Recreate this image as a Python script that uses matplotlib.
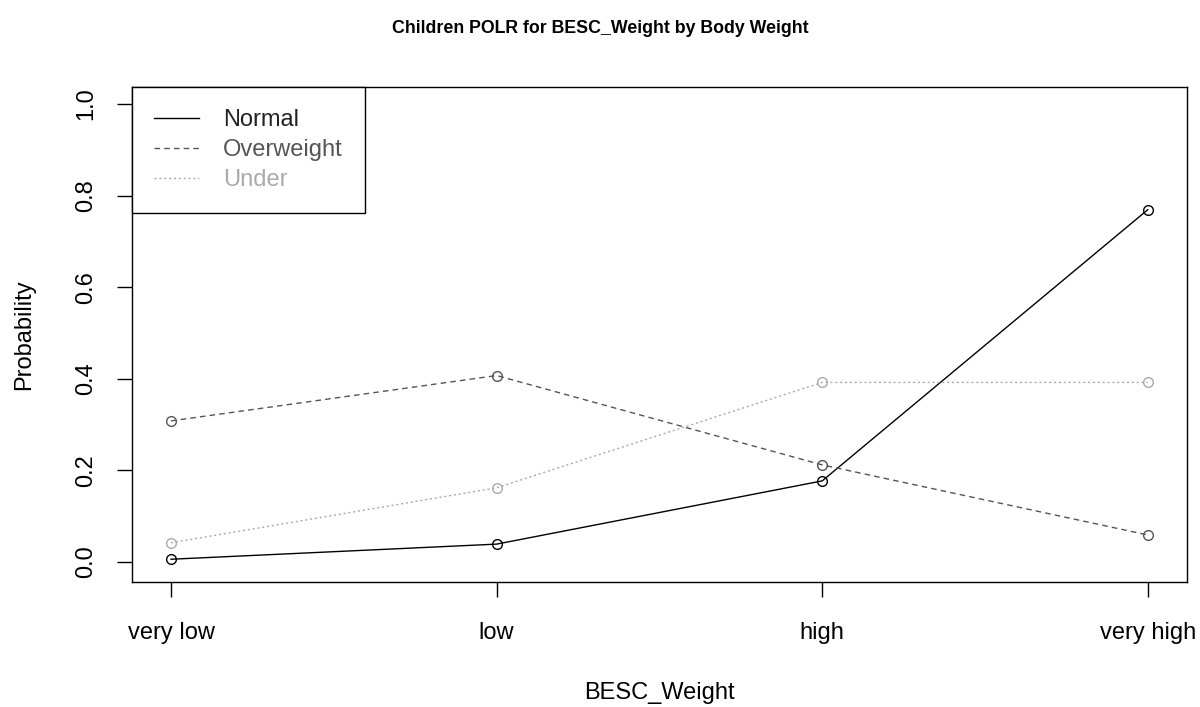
import numpy as np
import matplotlib
matplotlib.use("Agg")
import matplotlib.pyplot as plt

plt.rcParams['font.family'] = ['Liberation Sans', 'DejaVu Sans']

# categorias del eje x
niveles = ['very low', 'low', 'high', 'very high']
# probabilidades estimadas por grupo de peso corporal
normal = [0.006, 0.039, 0.177, 0.769]
overweight = [0.308, 0.407, 0.212, 0.059]
under = [0.042, 0.162, 0.392, 0.392]

grupos = ['Normal', 'Overweight', 'Under']
colores = ['black', '#555555', '#aaaaaa']
estilos = ['-', (0, (4, 3)), (0, (1.5, 2))]

fig = plt.figure(figsize=(12, 7.07), dpi=100)
ax = fig.add_axes([0.11, 0.1768, 0.879, 0.7002])

x = np.arange(1, len(niveles) + 1)
for serie, nombre, c, ls in zip([normal, overweight, under], grupos, colores, estilos):
    ax.plot(x, serie, color=c, linestyle=ls, linewidth=1.0, marker='o',
            markersize=7, markerfacecolor='none', markeredgecolor=c,
            markeredgewidth=1.0, label=nombre)

ax.set_xlim(0.88, 4.12)
ax.set_ylim(-0.0437, 1.037)
ax.set_xticks(x)
ax.set_xticklabels(niveles)
ax.set_yticks([0.0, 0.2, 0.4, 0.6, 0.8, 1.0])
ax.set_yticklabels(['0.0', '0.2', '0.4', '0.6', '0.8', '1.0'], rotation=90, va='center')
ax.tick_params(axis='both', length=11, width=1.0, labelsize=17, colors='black')
ax.tick_params(axis='x', pad=18)
ax.tick_params(axis='y', pad=14)
for s in ax.spines.values():
    s.set_linewidth(1.0)

ax.set_xlabel('BESC_Weight', fontsize=17, labelpad=27)
ax.set_ylabel('Probability', fontsize=17, labelpad=29)
fig.suptitle('Children POLR for BESC_Weight by Body Weight', fontsize=12.8,
             fontweight='bold', y=0.972)

# leyenda sin marcadores
handles = [plt.Line2D([], [], color=c, linestyle=ls, linewidth=1.0)
           for c, ls in zip(colores, estilos)]
leg = ax.legend(handles, grupos, loc='upper left', bbox_to_anchor=(0, 1),
                borderaxespad=0, fancybox=False, edgecolor='black', fontsize=17,
                handlelength=1.9, handletextpad=1.0, labelspacing=0.33,
                borderpad=0.95, framealpha=1)
leg.get_frame().set_linewidth(1.0)
for t, c in zip(leg.get_texts(), colores):
    t.set_color(c if c != 'black' else '#222222')

fig.savefig('out.png', dpi=100)
